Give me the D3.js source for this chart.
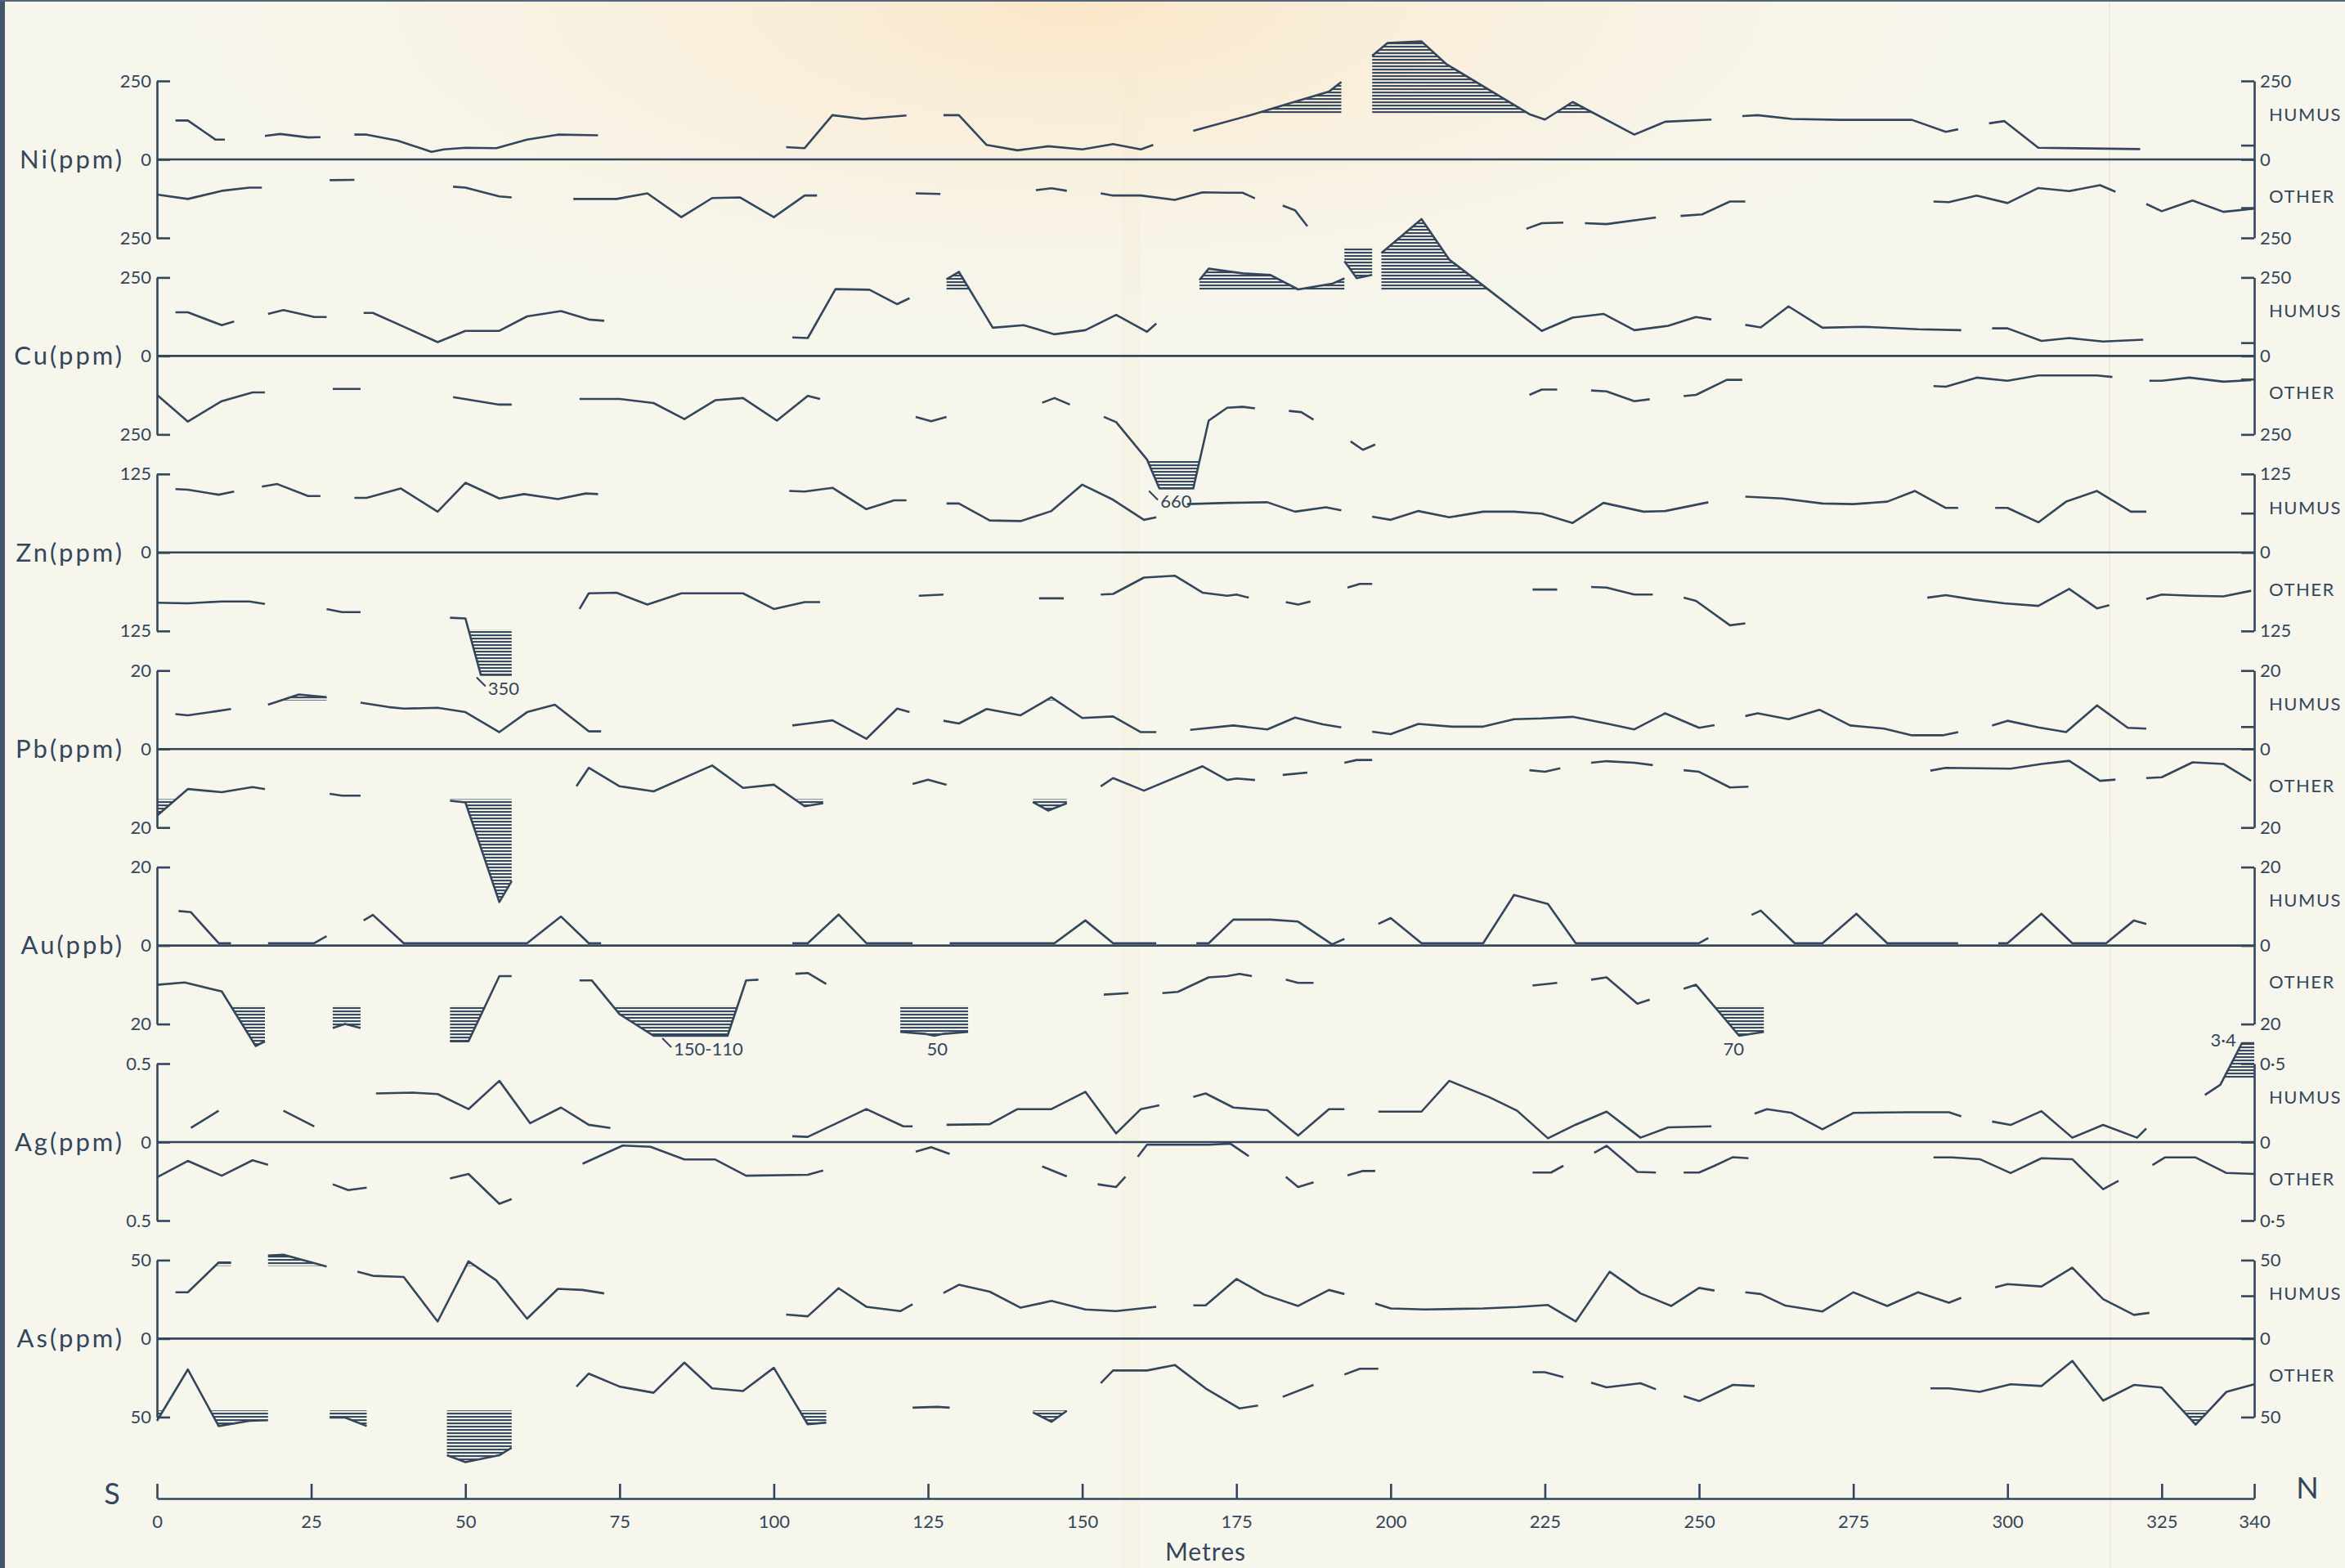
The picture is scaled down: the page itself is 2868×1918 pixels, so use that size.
<!DOCTYPE html>
<html>
<head>
<meta charset="utf-8">
<script src="https://cdn.jsdelivr.net/npm/d3@7"></script>
<style>
  html, body { margin: 0; padding: 0; background: #f7f6ec; }
  svg { display: block; }
</style>
</head>
<body>
<svg id="chart" width="2868" height="1918"></svg>
<script>
// Soil geochemistry traverse S–N, 0–340 m: humus samples plotted upward,
// other horizons plotted downward from each element's zero line.
// Each series is a list of [metres, value]; null marks a break in sampling.

const niHumus = [
  [3,124],[5,124],[9.5,63],[11,63], null,
  [17.5,75],[20,81],[24.5,70],[26.5,71], null,
  [32,79],[34,79],[39,60],[44.5,24],[46.5,32],[50,37],[55,36],[60,63],[65,79],[71.5,77], null,
  [102,39],[105,36],[109.5,141],[114.5,129],[121.5,140], null,
  [127.5,141],[130,141],[134.5,46],[139.5,29],[144.5,42],[150,32],[155,49],[159.5,32],[161.5,46], null,
  [168,91],[178,145],[183,175],[190,216],[192,247], null,
  [197,330],[199.5,371],[205,376],[209,304],[222.5,144],[225,127],[229.5,183],[239.5,79],[244.5,120],[252,127], null,
  [257,138],[259.5,141],[265,129],[273,126],[284.5,126],[290,88],[292,96], null,
  [297,115],[299.5,122],[305,37],[321.5,33]
];
const niOther = [
  [0,112],[5,126],[10.5,100],[15,90],[17,90], null,
  [28,66],[32,65], null,
  [48,87],[50,90],[55.5,118],[57.5,121], null,
  [67.5,126],[74.5,126],[79.5,108],[85,184],[90,123],[94.5,121],[100,184],[105,115],[107,115], null,
  [123,108],[127,110], null,
  [142.5,98],[145,92],[147.5,100], null,
  [153,108],[155,115],[159.5,115],[165,129],[169.5,105],[173.5,106],[176,106],[178,124], null,
  [182.5,147],[184.5,162],[186.5,213], null,
  [192.5,324],[194.5,378],[197,368], null,
  [222,221],[224.5,203],[228,201], null,
  [231.5,203],[235,206],[243,185], null,
  [247,180],[250.5,175],[255,134],[257.5,134], null,
  [288,134],[290.5,136],[295,115],[300,139],[305,91],[310,101],[315,82],[317.5,103], null,
  [322.5,142],[325,165],[330,131],[335,167],[340,157]
];

const cuHumus = [
  [3,139],[5,139],[10.5,98],[12.5,110], null,
  [18,134],[20.5,146],[25.5,124],[27.5,124], null,
  [33.5,137],[35,137],[40,93],[45.5,44],[50,80],[55.5,80],[60,126],[65.5,143],[70,116],[72.5,112], null,
  [103,59],[105.5,57],[110,213],[115.5,211],[120,165],[122,184], null,
  [128,244],[130,268],[135.5,90],[140.5,98],[145.5,69],[150.5,82],[155.5,131],[160.5,77],[162,103], null,
  [169,242],[170.5,278],[176,263],[180.5,258],[185,212],[190.5,230],[192.5,247], null,
  [198.5,328],[205,436],[209.5,307],[216,209],[224.5,80],[229.5,122],[234.5,134],[239.5,82],[245,96],[249.5,124],[252,116], null,
  [257.5,99],[260,91],[264.5,158],[270,90],[276.5,93],[285.5,85],[292.5,82], null,
  [297.5,88],[300,88],[305.5,48],[310,57],[315.5,46],[322,52]
];
const cuOther = [
  [0,124],[5,209],[10.5,144],[15.5,116],[17.5,116], null,
  [28.5,105],[33,105], null,
  [48,131],[55.5,155],[57.5,155], null,
  [68.5,137],[75,137],[80.5,150],[85.5,201],[90.5,141],[95,134],[100.5,206],[105.5,127],[107.5,137], null,
  [123,194],[125.5,208],[128,194], null,
  [143.5,149],[145.5,134],[148,155], null,
  [153.5,194],[155.5,211],[160.5,330],[162.5,660],[168,660],[170.5,206],[173.5,165],[176,162],[178,167], null,
  [183.5,175],[185.5,179],[187.5,203], null,
  [193.5,272],[195.5,299],[197.5,282], null,
  [222.5,124],[224.5,107],[227,107], null,
  [232.5,110],[235,113],[239.5,144],[242,138], null,
  [247.5,128],[249.5,124],[254.5,76],[257,76], null,
  [288,96],[290,98],[295,69],[300,79],[305,62],[310,62],[314.5,62],[317,67], null,
  [323,79],[325,79],[329.5,69],[335,82],[339.5,77]
];

const znHumus = [
  [3,101],[5,100],[10,92],[12.5,97], null,
  [17,105],[19.5,109],[24.5,90],[26.5,90], null,
  [32,87],[34,87],[39.5,102],[45.5,65],[50,111],[55.5,86],[59.5,93],[65,85],[69.5,94],[71.5,93], null,
  [102.5,98],[105,97],[109.5,103],[115,69],[119.5,83],[121.5,83], null,
  [128,78],[130,78],[135,51],[140,50],[145,66],[150,108],[155,84],[160,52],[162,56], null,
  [167,77],[173.5,79],[180,80],[184.5,65],[189.5,72],[192,67], null,
  [197,57],[200,52],[204.5,66],[209.5,56],[215,65],[220,65],[224.5,62],[229.5,47],[234.5,79],[241,65],[244.5,66],[251.5,80], null,
  [257.5,89],[263.5,86],[270,78],[275,77],[280.5,81],[285,98],[290,71],[292,71], null,
  [298,71],[300,71],[305,48],[309.5,81],[314.5,98],[320,65],[322.5,65]
];
const znOther = [
  [0,80],[5,81],[10.5,78],[15,78],[17.5,82], null,
  [27.5,90],[30,95],[33,95], null,
  [47.5,104],[50,105],[52.5,350],[57.5,350], null,
  [68.5,90],[70,65],[74.5,64],[79.5,83],[85,65],[90,65],[95,65],[100,90],[105,79],[107.5,79], null,
  [123.5,69],[127.5,67], null,
  [143,73],[147,73], null,
  [153,67],[155,66],[160,40],[165,37],[169.5,64],[173.5,69],[175,67],[177,72], null,
  [183,79],[185,83],[187,78], null,
  [193,56],[195,50],[197,50], null,
  [223,59],[227,59], null,
  [232.5,55],[235,56],[239.5,67],[242.5,67], null,
  [247.5,72],[249.5,77],[255,116],[257.5,113], null,
  [287,72],[290,68],[294.5,75],[299.5,81],[305,85],[310,58],[314.5,89],[316.5,84], null,
  [322.5,74],[325,67],[330,69],[335,70],[339.5,61]
];

const pbHumus = [
  [3,8.9],[5,8.6],[9.5,9.6],[12,10.2], null,
  [18,11.3],[23,13.9],[27.5,13.2], null,
  [33,11.8],[37.5,10.7],[40,10.3],[45.5,10.5],[50,9.4],[55.5,4.3],[60,9.4],[64.5,11.3],[70,4.5],[72,4.5], null,
  [103,6],[105,6.4],[109.5,7.3],[115,2.6],[120,10.3],[122,9.4], null,
  [127.5,7.2],[130,6.5],[134.5,10.2],[140,8.6],[145,13.2],[150,7.9],[155,8.3],[159.5,4.3],[162,4.3], null,
  [167.5,4.9],[174.5,6],[180,5],[184.5,8],[189,6.3],[192,5.5], null,
  [197,4.4],[200,3.8],[204.5,6.4],[210,5.7],[215,5.7],[220,7.6],[224.5,7.8],[229.5,8.2],[235,6.5],[239.5,5],[244.5,9.1],[250,5.4],[252.5,6.1], null,
  [257.5,8.4],[259.5,9.1],[264.5,7.6],[269.5,10],[274.5,6],[280,5.2],[284.5,3.5],[289.5,3.5],[292,4.3], null,
  [297.5,6],[300,7.2],[305,5.5],[309.5,4.3],[314.5,11.1],[319.5,5.4],[322.5,5.2]
];
const pbOther = [
  [0,17],[5,10.2],[10.5,11],[15.5,9.7],[17.5,10.2], null,
  [28,11.4],[30,11.9],[33,11.9], null,
  [47.5,13.2],[50,13.6],[55.5,39],[57.5,33.7], null,
  [68,9.5],[70,4.8],[75,9.5],[80.5,10.8],[90,4.2],[95,9.9],[100,9.1],[105,14.6],[108,13.8], null,
  [122.5,8.9],[125,7.8],[128,9.1], null,
  [142,13.5],[144.5,15.7],[147.5,13.8], null,
  [153,9.5],[155,7.4],[160,10.6],[169.5,4.4],[173.5,7.9],[175,7.5],[178,7.9], null,
  [182.5,6.6],[186.5,6], null,
  [192.5,3.5],[194.5,2.8],[197,2.8], null,
  [222.5,5.4],[225,5.8],[227.5,4.9], null,
  [232.5,3.5],[235,3.1],[239.5,3.5],[242.5,4.1], null,
  [247.5,5.4],[250,5.8],[255,9.8],[258,9.6], null,
  [287.5,5.5],[290,4.8],[300.5,5],[305.5,3.8],[310,3],[315,8.1],[317.5,7.8], null,
  [322.5,7.4],[325,7.2],[330,3.4],[335,3.8],[339.5,8.1]
];

const auHumus = [
  [3.5,8.8],[5.5,8.5],[10,0.6],[12,0.6], null,
  [18,0.6],[25.5,0.6],[27.5,2.4], null,
  [33.5,6.4],[35,7.8],[40,0.6],[60,0.6],[65.5,7.4],[70,0.6],[72,0.6], null,
  [103,0.6],[105.5,0.6],[110.5,7.9],[115,0.6],[122.5,0.6], null,
  [128.5,0.6],[145.5,0.6],[150.5,6.4],[155,0.6],[162,0.6], null,
  [168.5,0.6],[170.5,0.6],[174.5,6.6],[180.5,6.6],[185,6.1],[190.5,0.3],[192.5,1.7], null,
  [198,5.5],[200,7],[205,0.6],[215,0.6],[220,12.9],[225.5,10.6],[230,0.6],[250,0.6],[251.5,1.9], null,
  [258.5,7.8],[260,8.9],[265.5,0.6],[270,0.6],[275.5,8.1],[280.5,0.6],[292,0.6], null,
  [298.5,0.6],[300,0.6],[305.5,8.1],[310.5,0.6],[316,0.6],[320.5,6.4],[322.5,5.5]
];
const auOther = [
  [0,10],[4.5,9.4],[10.5,11.7],[16,25.6],[17.5,24.4], null,
  [28.5,21],[30.5,20],[33,21], null,
  [47.5,24.4],[50.5,24.4],[55.5,7.8],[57.5,7.8], null,
  [68.5,8.9],[70.5,8.9],[75,17.5],[80.5,150],[92.5,110],[95.5,8.9],[97.5,8.7], null,
  [103.5,7.2],[105.5,7],[108.5,9.8], null,
  [120.5,22],[124.5,22.5],[126,50],[127.5,22.5],[131.5,22], null,
  [153.5,12.5],[157.5,12.1], null,
  [163,12.1],[165.5,11.8],[170.5,8.1],[173.5,7.8],[175.5,7.2],[177.5,7.8], null,
  [183,8.7],[185,9.5],[187.5,9.5], null,
  [223,10.2],[227,9.5], null,
  [232.5,8.7],[235,8.1],[240,14.8],[242,13.8], null,
  [247.5,11],[249.5,10],[256.5,70],[260.5,22]
];

const agHumus = [
  [5.5,0.09],[10,0.2], null,
  [20.5,0.2],[25.5,0.1], null,
  [35.5,0.31],[41.5,0.315],[45.5,0.306],[50.5,0.21],[55.5,0.39],[60.5,0.12],[65.5,0.22],[70,0.11],[73.5,0.09], null,
  [103,0.037],[105.5,0.033],[115,0.21],[121,0.1],[122.5,0.1], null,
  [128,0.11],[135,0.114],[139.5,0.21],[145,0.21],[150.5,0.32],[155.5,0.055],[159.5,0.21],[162.5,0.234], null,
  [168,0.288],[170,0.31],[174.5,0.22],[180,0.203],[185,0.042],[190,0.21],[192.5,0.21], null,
  [198,0.194],[205,0.194],[209.5,0.39],[216,0.286],[220.5,0.2],[225.5,0.024],[230,0.111],[235,0.194],[240.5,0.028],[245,0.094],[252,0.1], null,
  [259,0.181],[261,0.21],[265,0.186],[270,0.081],[275,0.186],[284,0.19],[290.5,0.19],[292.5,0.164], null,
  [297.5,0.131],[300.5,0.109],[305.5,0.197],[310.5,0.028],[315.5,0.109],[321,0.028],[322.5,0.087], null,
  [332,0.3],[334.5,0.365],[338,3.4],[340,3.4]
];
const agOther = [
  [0,0.225],[5,0.12],[10.5,0.214],[15.5,0.116],[18,0.144], null,
  [28.5,0.269],[31,0.306],[34,0.29], null,
  [47.5,0.232],[50.5,0.203],[55.5,0.393],[57.5,0.363], null,
  [69,0.138],[75.5,0.022],[80,0.03],[85.5,0.111],[90.5,0.111],[95.5,0.214],[105.5,0.208],[108,0.181], null,
  [123,0.061],[125.5,0.033],[128.5,0.076], null,
  [143.5,0.155],[147.5,0.219], null,
  [152.5,0.269],[155.5,0.286],[157,0.221], null,
  [159,0.094],[160.5,0.017],[170.5,0.017],[174,0.01],[177,0.09], null,
  [183,0.221],[185,0.286],[187.5,0.256], null,
  [193,0.212],[195.5,0.184],[197.5,0.184], null,
  [223,0.194],[226,0.194],[228,0.151], null,
  [233,0.068],[235,0.024],[240,0.19],[243,0.194], null,
  [247.5,0.194],[250,0.194],[252.5,0.151],[255.5,0.096],[258,0.103], null,
  [288,0.098],[291,0.098],[295.5,0.109],[300.5,0.197],[305.5,0.103],[310.5,0.109],[315.5,0.3],[318,0.247], null,
  [323.5,0.146],[325.5,0.098],[330.5,0.098],[335.5,0.197],[340,0.203]
];

const asHumus = [
  [3,29.5],[5,29.5],[10,48.5],[12,48.5], null,
  [18,52.9],[20.5,53.5],[27.5,45.9], null,
  [32.5,42.6],[35,40],[40,39.3],[45.5,10.9],[50.5,49.2],[55,37.1],[60,12.7],[65,31.7],[69,31],[72.5,28.8], null,
  [102,15.3],[105.5,14.2],[110.5,32.1],[115,20.3],[120.5,17.5],[122.5,21.9], null,
  [127.5,29.1],[130,34.3],[135,29.9],[140,19.7],[145,24],[150.5,18.6],[155.5,17.5],[162,20.3], null,
  [168,21.2],[170,21.2],[175,38],[179.5,28],[185,20.8],[190,31],[192.5,28.4], null,
  [197.5,22.3],[200,19.2],[205.5,18.6],[215,19.2],[220.5,20.1],[225.5,21.4],[230,10.9],[235.5,42.6],[240.5,28.8],[245.5,20.8],[250,32.3],[252.5,30.6], null,
  [257.5,29.5],[260,28.4],[264,21],[270,17.3],[275,29.5],[280.5,20.8],[285.5,29.5],[290.5,22.9],[292.5,26], null,
  [298,32.6],[300,34.7],[305.5,33.2],[310.5,45.2],[315.5,25.1],[320.5,15.1],[323,16.4]
];
const asOther = [
  [0,52.4],[5,19.7],[10,55.7],[15,52.4],[18,52], null,
  [28,50.3],[30.5,50.3],[34,55.7], null,
  [47,74.3],[50,78.7],[55.5,74.3],[57.5,69.5], null,
  [68,30.6],[70,22.3],[75,30.6],[80.5,34.5],[85.5,15.3],[90,31.7],[95,33.4],[100,18.6],[105.5,54.6],[108.5,53.5], null,
  [122.5,44],[126.5,43.5],[128.5,44], null,
  [142,47],[145,53],[147.5,46], null,
  [153,28.4],[155,20.3],[160.5,20.3],[165,16.8],[170,31.7],[175.5,44.5],[178.5,42.6], null,
  [182.5,37.1],[187.5,29.5], null,
  [192.5,22.9],[195,19.2],[198,19.2], null,
  [223,21.4],[225,21.4],[228,24.5], null,
  [232.5,28],[235,31],[240.5,28.4],[243,32.3], null,
  [247.5,36.7],[250,39.8],[255.5,29.5],[259,30.2], null,
  [287.5,31.7],[290.5,31.7],[295.5,33.9],[300.5,29.1],[305.5,30.2],[310.5,14.2],[315.5,39.5],[320.5,29.5],[325,31.2],[330.5,54.8],[335.5,33.9],[340,29.1]
];

// Panel definitions
const elementLabels = ["Ni(ppm)", "Cu(ppm)", "Zn(ppm)", "Pb(ppm)", "Au(ppb)", "Ag(ppm)", "As(ppm)"];
const axisMax = [250, 250, 125, 20, 20, 0.5, 50];
const leftMaxLabels = ["250", "250", "125", "20", "20", "0.5", "50"];
const rightMaxLabels = ["250", "250", "125", "20", "20", "0·5", "50"];
const humusSeries = [niHumus, cuHumus, znHumus, pbHumus, auHumus, agHumus, asHumus];
const otherSeries = [niOther, cuOther, znOther, pbOther, auOther, agOther, asOther];
// anomaly thresholds: the part of a profile beyond these is hatched
const humusThreshold = [143, 208, null, 12.2, null, 0.4, 45.9];
const otherThreshold = [278, 330, 122, 12.6, 15.2, null, 45.4];
// values above `over` run off the scale and are drawn at the `at` level
const humusCap = [null, null, null, null, null, { over: 1, at: 0.63 }, null];
const otherCap = [null, { over: 500, at: 422 }, { over: 300, at: 195 }, null, { over: 30, at: 23 }, null, null];
// short reference ticks on the right-hand scales: [panel, side, value]
const rightMidTicks = [[0, "humus", 44], [0, "other", 155], [1, "humus", 41], [1, "other", 75], [2, "humus", 62], [3, "humus", 5.6], [6, "humus", 27]];
// true values written beside off-scale anomalies
const offScaleLabels = [
  { panel: 1, side: "other", m: 165.2, text: "660", leader: true },
  { panel: 2, side: "other", m: 56.2, text: "350", leader: true },
  { panel: 4, side: "other", m: 89.4, text: "150-110", leader: true },
  { panel: 4, side: "other", m: 126.5, text: "50", leader: false },
  { panel: 4, side: "other", m: 255.6, text: "70", leader: false },
  { panel: 5, side: "humus", m: 335.2, text: "3·4", leader: false }
];
const xTicks = [0, 25, 50, 75, 100, 125, 150, 175, 200, 225, 250, 275, 300, 325, 340];

// ---------------------------------------------------------------------------
const W = 2868, H = 1918;
const ink = "#33465b";
const font = "Lato, 'Open Sans', 'DejaVu Sans', sans-serif";
const svg = d3.select("#chart");

const x = d3.scaleLinear().domain([0, 340]).range([192, 2757]);
const zero0 = 195, panelStep = 240.4, half = 96;
const axisY = 1833;

// paper
const defs = svg.append("defs");
const stain = defs.append("radialGradient").attr("id", "stain")
  .attr("cx", 0.46).attr("cy", 0.0).attr("r", 0.42);
stain.append("stop").attr("offset", "0%").attr("stop-color", "#fbe6c6").attr("stop-opacity", 0.95);
stain.append("stop").attr("offset", "55%").attr("stop-color", "#f9eedb").attr("stop-opacity", 0.55);
stain.append("stop").attr("offset", "100%").attr("stop-color", "#f7f6ec").attr("stop-opacity", 0);

const hatch = defs.append("pattern").attr("id", "hatch")
  .attr("patternUnits", "userSpaceOnUse").attr("width", 8).attr("height", 4);
hatch.append("line").attr("x1", 0).attr("x2", 8).attr("y1", 1.1).attr("y2", 1.1)
  .attr("stroke", ink).attr("stroke-width", 2.1);

svg.append("rect").attr("width", W).attr("height", H).attr("fill", "#f7f6ec");
svg.append("rect").attr("width", W).attr("height", H * 0.55).attr("fill", "url(#stain)");
// fold marks
svg.append("rect").attr("x", 1372).attr("y", 0).attr("width", 22).attr("height", H)
  .attr("fill", "#f4e6cc").attr("opacity", 0.22);
svg.append("line").attr("x1", 2580).attr("x2", 2581).attr("y1", 0).attr("y2", H)
  .attr("stroke", "#ebe7da").attr("stroke-width", 1.5);
// sheet edges
svg.append("rect").attr("x", 0).attr("y", 0).attr("width", 6).attr("height", H).attr("fill", "#44556a");
svg.append("rect").attr("x", 0).attr("y", 0).attr("width", W).attr("height", 2).attr("fill", "#55667a");

const plot = svg.append("g");

elementLabels.forEach((name, i) => {
  const z = zero0 + i * panelStep;
  const max = axisMax[i];
  const yHumus = d3.scaleLinear().domain([0, max]).range([z, z - half]);
  const yOther = d3.scaleLinear().domain([0, max]).range([z, z + half]);
  const yAxis = d3.scaleLinear().domain([-max, max]).range([z + half, z - half]);
  const g = plot.append("g");

  // element name
  g.append("text").attr("x", 152).attr("y", z).attr("dy", "0.35em")
    .attr("text-anchor", "end").attr("font-family", font).attr("font-size", 31)
    .attr("letter-spacing", 3).attr("fill", ink).text(name);

  // zero line
  g.append("line").attr("x1", x(0)).attr("x2", x(340)).attr("y1", z).attr("y2", z)
    .attr("stroke", ink).attr("stroke-width", 2.6);

  // left and right scales
  const fmtLeft = d => d === 0 ? "0" : leftMaxLabels[i];
  const fmtRight = d => d === 0 ? "0" : rightMaxLabels[i];
  const left = g.append("g").attr("transform", `translate(${x(0)},0)`)
    .call(d3.axisLeft(yAxis).tickValues([-max, 0, max]).tickSize(-16).tickSizeOuter(0)
      .tickPadding(7).tickFormat(fmtLeft));
  const right = g.append("g").attr("transform", `translate(${x(340)},0)`)
    .call(d3.axisRight(yAxis).tickValues([-max, 0, max]).tickSize(-16).tickSizeOuter(0)
      .tickPadding(7).tickFormat(fmtRight));
  [left, right].forEach(ax => {
    ax.select(".domain").attr("stroke", ink).attr("stroke-width", 2.6);
    ax.selectAll(".tick line").attr("stroke", ink).attr("stroke-width", 2.6);
    ax.selectAll(".tick text").attr("fill", ink).attr("font-family", font).attr("font-size", 22);
  });

  // HUMUS / OTHER captions
  g.append("text").attr("x", x(340) + 18).attr("y", z - 55).attr("dy", "0.35em")
    .attr("font-family", font).attr("font-size", 22).attr("letter-spacing", 1.5)
    .attr("fill", ink).text("HUMUS");
  g.append("text").attr("x", x(340) + 18).attr("y", z + 45).attr("dy", "0.35em")
    .attr("font-family", font).attr("font-size", 22).attr("letter-spacing", 1.5)
    .attr("fill", ink).text("OTHER");

  rightMidTicks.filter(t => t[0] === i).forEach(t => {
    const yy = t[1] === "humus" ? yHumus(t[2]) : yOther(t[2]);
    g.append("line").attr("x1", x(340) - 16).attr("x2", x(340)).attr("y1", yy).attr("y2", yy)
      .attr("stroke", ink).attr("stroke-width", 2.6);
  });

  const drawProfile = (data, yScale, threshold, cap, side) => {
    const shown = d => (cap && d[1] > cap.over) ? cap.at : d[1];
    if (threshold !== null) {
      const clipId = `clip-${i}-${side}`;
      const ty = yScale(threshold);
      // clip keeps only the part beyond the threshold, inset so that the
      // threshold edge itself never shows as a hairline
      defs.append("clipPath").attr("id", clipId).append("rect")
        .attr("x", 0).attr("width", W)
        .attr("y", side === "humus" ? 0 : ty + 0.8)
        .attr("height", side === "humus" ? ty - 0.8 : H - ty - 0.8);
      const area = d3.area().defined(d => d !== null)
        .x(d => x(d[0])).y0(ty).y1(d => yScale(shown(d)));
      g.append("path").datum(data).attr("d", area)
        .attr("fill", "url(#hatch)").attr("clip-path", `url(#${clipId})`);
    }
    const line = d3.line().defined(d => d !== null)
      .x(d => x(d[0])).y(d => yScale(shown(d)));
    g.append("path").datum(data).attr("d", line)
      .attr("fill", "none").attr("stroke", ink).attr("stroke-width", 2.6)
      .attr("stroke-linejoin", "round").attr("stroke-linecap", "butt");
  };
  drawProfile(humusSeries[i], yHumus, humusThreshold[i], humusCap[i], "humus");
  drawProfile(otherSeries[i], yOther, otherThreshold[i], otherCap[i], "other");

  // true values of off-scale anomalies
  offScaleLabels.filter(l => l.panel === i).forEach(l => {
    const cap = l.side === "humus" ? humusCap[i] : otherCap[i];
    const capY = l.side === "humus" ? yHumus(cap.at) : yOther(cap.at);
    if (l.side === "other") {
      const t = g.append("text").attr("x", x(l.m)).attr("y", capY + 24)
        .attr("text-anchor", "middle").attr("font-family", font).attr("font-size", 22)
        .attr("fill", ink).text(l.text);
      if (l.leader) {
        const w = t.node().getComputedTextLength();
        const xs = x(l.m) - w / 2;
        g.append("line").attr("x1", xs - 3).attr("y1", capY + 14)
          .attr("x2", xs - 14).attr("y2", capY + 3)
          .attr("stroke", ink).attr("stroke-width", 2);
      }
    } else {
      g.append("text").attr("x", x(l.m) + 14).attr("y", capY + 4)
        .attr("text-anchor", "end").attr("font-family", font).attr("font-size", 22)
        .attr("fill", ink).text(l.text);
    }
  });
});

// distance axis
const xa = svg.append("g").attr("transform", `translate(0,${axisY})`)
  .call(d3.axisBottom(x).tickValues(xTicks).tickSize(-18).tickSizeOuter(0).tickPadding(20)
    .tickFormat(d3.format("d")));
xa.select(".domain").attr("stroke", ink).attr("stroke-width", 2.6);
xa.selectAll(".tick line").attr("stroke", ink).attr("stroke-width", 2.6);
xa.selectAll(".tick text").attr("fill", ink).attr("font-family", font).attr("font-size", 22);

svg.append("text").attr("x", 137).attr("y", axisY - 6).attr("text-anchor", "middle")
  .attr("dy", "0.35em").attr("font-family", font).attr("font-size", 36).attr("fill", ink).text("S");
svg.append("text").attr("x", 2822).attr("y", axisY - 13).attr("text-anchor", "middle")
  .attr("dy", "0.35em").attr("font-family", font).attr("font-size", 36).attr("fill", ink).text("N");
svg.append("text").attr("x", x(170)).attr("y", 1898).attr("text-anchor", "middle")
  .attr("dy", "0.35em").attr("font-family", font).attr("font-size", 30).attr("letter-spacing", 1)
  .attr("fill", ink).text("Metres");
</script>
</body>
</html>
